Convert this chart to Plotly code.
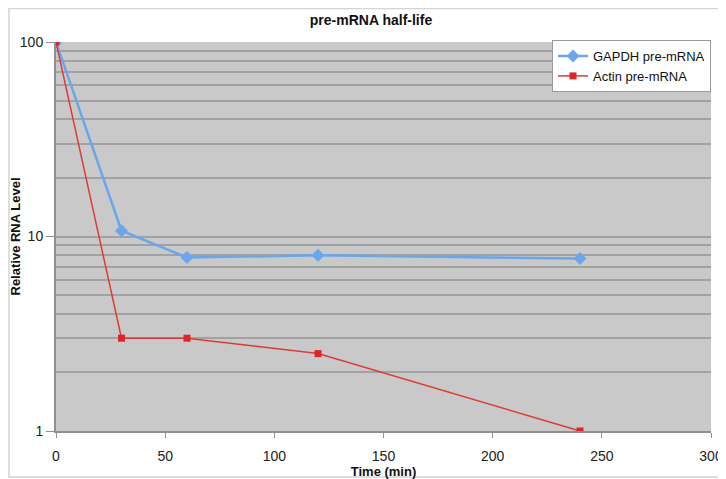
import plotly.graph_objects as go

time_min = [0, 30, 60, 120, 240]
gapdh = [100, 10.7, 7.8, 8.0, 7.7]
actin = [100, 3.0, 3.0, 2.5, 1.0]
x_ticks = [0, 50, 100, 150, 200, 250, 300]
y_ticks = [1, 10, 100]

FONT = "Liberation Sans, Arial, sans-serif"

fig = go.Figure()
fig.add_trace(go.Scatter(
    x=time_min, y=gapdh, name="GAPDH pre-mRNA", mode="lines+markers",
    line=dict(color="#6aa6ec", width=2.5),
    marker=dict(symbol="diamond", size=10, color="#6aa6ec"),
))
fig.add_trace(go.Scatter(
    x=time_min, y=actin, name="Actin pre-mRNA", mode="lines+markers",
    line=dict(color="#db3b3b", width=1.5),
    marker=dict(symbol="square", size=7, color="#dc2626"),
))

# page body has an 8px margin, so the figure is sized to fit the window
fig.update_layout(
    width=718, height=471,
    margin=dict(l=48, r=15, t=34, b=48),
    paper_bgcolor="white",
    plot_bgcolor="#c9c9c9",
    font=dict(family=FONT, size=13, color="#222"),
    title=dict(text="<b>pre-mRNA half-life</b>", x=0.5056, xanchor="center",
               y=0.975, yanchor="middle", yref="container",
               font=dict(size=14, color="#111")),
    showlegend=True,
    legend=dict(x=1.0, xanchor="right", y=1.005, yanchor="top",
                bgcolor="white", bordercolor="#999", borderwidth=1,
                font=dict(size=13, color="#111"), tracegroupgap=0,
                itemwidth=30),
    xaxis=dict(range=[0, 300], tickvals=x_ticks, showgrid=False,
               automargin=False,
               showline=True, linecolor="#909090", linewidth=2,
               ticks="outside", ticklen=5, tickcolor="#909090",
               ticklabelstandoff=6,
               zeroline=False, tickfont=dict(size=14),
               title=dict(text="<b>Time (min)</b>", standoff=3,
                          font=dict(size=13, color="#111"))),
    yaxis=dict(type="log", range=[0, 2], tickvals=y_ticks,
               ticktext=[str(v) for v in y_ticks],
               automargin=False,
               showgrid=True, gridcolor="#a2a2a2", gridwidth=1.5,
               minor=dict(dtick="D1", showgrid=True, gridcolor="#a2a2a2",
                          gridwidth=1.5, ticks=""),
               showline=True, linecolor="#909090", linewidth=2,
               ticks="outside", ticklen=8, tickcolor="#909090",
               zeroline=False, tickfont=dict(size=14),
               title=dict(text="<b>Relative RNA Level</b>", standoff=0,
                          font=dict(size=13, color="#111"))),
)

fig.add_shape(type="rect", xref="paper", yref="paper",
              x0=-0.0718, x1=1.05, y0=-0.118, y1=1.086,
              line=dict(color="#d4d4d4", width=1.5), layer="below")

fig.write_html("out.html")
